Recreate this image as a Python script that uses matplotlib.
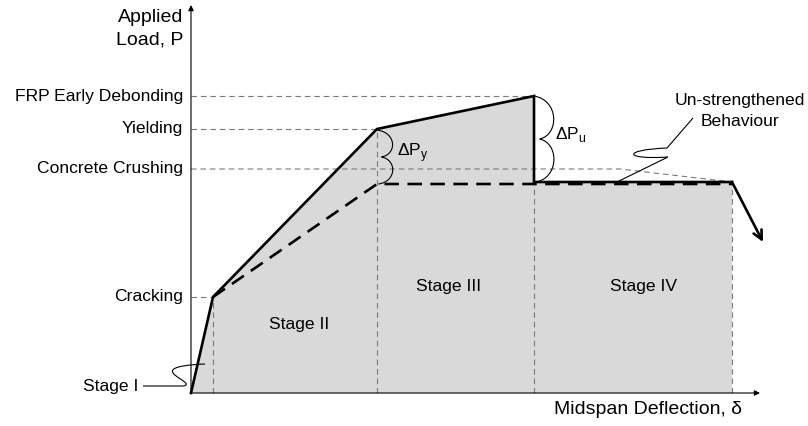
import numpy as np
import matplotlib
matplotlib.use("Agg")
import matplotlib.pyplot as plt
from matplotlib.path import Path
from matplotlib.patches import PathPatch

plt.rcParams['font.family'] = ['Liberation Sans', 'DejaVu Sans']
plt.rcParams['mathtext.fontset'] = 'custom'
plt.rcParams['mathtext.rm'] = 'Liberation Sans'

# strengthened (FRP) load-deflection response
deflection = [0.0, 0.22, 1.86, 3.43, 3.43, 5.41]
load = [0.0, 0.96, 2.64, 2.97, 2.11, 2.11]
tail_defl, tail_load = 5.72, 1.51

# un-strengthened response
unstr_defl = [0.22, 1.86, 5.41]
unstr_load = [0.96, 2.09, 2.09]

# characteristic load levels
level_names = ['Cracking', 'Concrete Crushing', 'Yielding', 'FRP Early Debonding']
level_loads = [0.96, 2.24, 2.64, 2.97]
level_defl = [0.22, 4.29, 1.86, 3.43]

stage_bounds = [0.22, 1.86, 3.43, 5.41]
stage_names = ['Stage II', 'Stage III', 'Stage IV']

fig = plt.figure(figsize=(8.08, 4.26), dpi=100)
ax = fig.add_axes([0, 0, 1, 1])
ax.set_xlim(-1.91, 6.17)
ax.set_ylim(-0.33, 3.93)
ax.axis('off')

fs = 12.6
fs_title = 14
grey = '#7a7a7a'

# shaded area under the curve
ax.fill(deflection + [deflection[-1]], load + [0.0], color='#d9d9d9', lw=0, zorder=1)

# reference lines to the load levels
for name, p, d in zip(level_names, level_loads, level_defl):
    if name == 'Concrete Crushing':
        xs, ys = [0, d, deflection[-1]], [p, p, load[-1]]
    else:
        xs, ys = [0, d], [p, p]
    ax.plot(xs, ys, color=grey, lw=0.8, dashes=(5, 3.5), zorder=2)
    ax.text(-0.08, p, name, ha='right', va='center', fontsize=fs)

# stage boundaries
for d in stage_bounds:
    top = np.interp(d, deflection[:3], load[:3]) if d < 3 else load[-1]
    ax.plot([d, d], [0, top], color=grey, lw=0.8, dashes=(5, 3.5), zorder=2)

# curves
ax.plot(unstr_defl, unstr_load, color='k', lw=1.9, dashes=(5.5, 3.2), zorder=3)
ax.plot(deflection, load, color='k', lw=1.9, solid_joinstyle='miter', zorder=4)
ax.annotate('', xy=(tail_defl, tail_load), xytext=(deflection[-1], load[-1]),
            arrowprops=dict(arrowstyle='->', lw=1.9, color='k', mutation_scale=16,
                            shrinkA=0, shrinkB=0), zorder=4)

# axes with arrows
ax.annotate('', xy=(5.69, 0), xytext=(0, 0),
            arrowprops=dict(arrowstyle='-|>', lw=0.8, color='k', mutation_scale=8,
                            shrinkA=0, shrinkB=0), zorder=5)
ax.annotate('', xy=(0, 3.88), xytext=(0, 0),
            arrowprops=dict(arrowstyle='-|>', lw=0.8, color='k', mutation_scale=8,
                            shrinkA=0, shrinkB=0), zorder=5)
ax.text(-0.08, 3.75, 'Applied', ha='right', va='center', fontsize=fs_title)
ax.text(-0.08, 3.53, 'Load, P', ha='right', va='center', fontsize=fs_title)
ax.text(4.57, -0.17, 'Midspan Deflection, δ', ha='center', va='center', fontsize=fs_title)

# stage labels
ax.text(1.08, 0.69, stage_names[0], ha='center', va='center', fontsize=fs)
ax.text(2.58, 1.07, stage_names[1], ha='center', va='center', fontsize=fs)
ax.text(4.52, 1.07, stage_names[2], ha='center', va='center', fontsize=fs)


def brace(x, y_top, y_bot, w):
    # two outward bulges with a small notch in the middle
    h = y_top - y_bot
    ym = (y_top + y_bot) / 2
    verts = [(x, y_top), (x + 1.33 * w, y_top - 0.05 * h), (x + 1.33 * w, ym + 0.05 * h),
             (x + 0.3 * w, ym),
             (x + 1.33 * w, ym - 0.05 * h), (x + 1.33 * w, y_bot + 0.05 * h), (x + 0.1 * w, y_bot)]
    codes = [Path.MOVETO] + [Path.CURVE4] * 6
    ax.add_patch(PathPatch(Path(verts, codes), fc='none', ec='k', lw=0.8, zorder=5))


brace(deflection[2], load[2] - 0.01, unstr_load[1], 0.15)
brace(deflection[3], load[3], load[4], 0.19)
ax.text(2.06, 2.40, 'ΔP$_{\\mathregular{y}}$', ha='left', va='center', fontsize=fs)
ax.text(3.64, 2.58, 'ΔP$_{\\mathregular{u}}$', ha='left', va='center', fontsize=fs)

# Stage I leader
ax.text(-0.53, 0.06, 'Stage I', ha='right', va='center', fontsize=fs)
v = [(-0.48, 0.07), (-0.08, 0.07), (0.10, 0.10), (-0.55, 0.26), (0.14, 0.29)]
ax.add_patch(PathPatch(Path(v, [Path.MOVETO, Path.LINETO, Path.CURVE4, Path.CURVE4, Path.CURVE4]),
                       fc='none', ec='k', lw=0.8, zorder=5))

# un-strengthened leader
ax.text(5.49, 2.92, 'Un-strengthened', ha='center', va='center', fontsize=fs)
ax.text(5.49, 2.71, 'Behaviour', ha='center', va='center', fontsize=fs)
v = [(5.02, 2.75), (4.76, 2.45), (4.29, 2.43), (4.34, 2.33), (4.77, 2.36), (4.26, 2.11)]
ax.add_patch(PathPatch(Path(v, [Path.MOVETO, Path.LINETO, Path.CURVE4, Path.CURVE4, Path.CURVE4, Path.LINETO]),
                       fc='none', ec='k', lw=0.8, zorder=5))

plt.savefig('out.png', dpi=100)
